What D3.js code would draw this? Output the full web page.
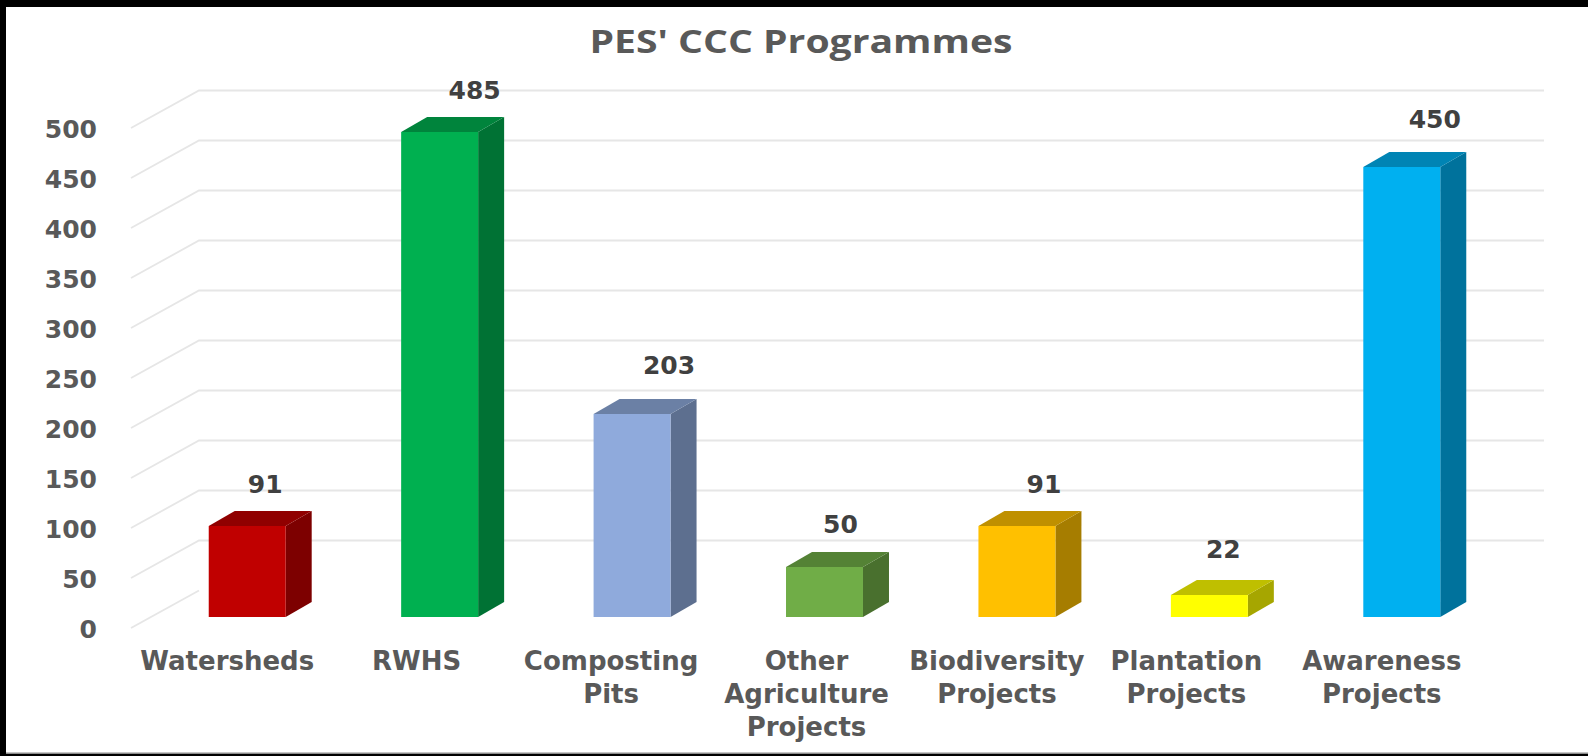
<!DOCTYPE html>
<html>
<head>
<meta charset="utf-8">
<script src="https://cdn.jsdelivr.net/npm/d3@7"></script>
<style>
  html, body { margin:0; padding:0; background:#000; overflow:hidden; }
  text { font-family:"DejaVu Sans", sans-serif; font-weight:700; }
</style>
</head>
<body>
<div id="chart"></div>
<script>
const categories = ["Watersheds","RWHS","Composting Pits","Other Agriculture Projects","Biodiversity Projects","Plantation Projects","Awareness Projects"]
const categoryLines = [["Watersheds"],["RWHS"],["Composting","Pits"],["Other","Agriculture","Projects"],["Biodiversity","Projects"],["Plantation","Projects"],["Awareness","Projects"]]
const values = [91,485,203,50,91,22,450]
const barColors = ["#C00000","#00B050","#8FAADC","#70AD47","#FFC000","#FFFF00","#00B0F0"]
const yTicks = [0,50,100,150,200,250,300,350,400,450,500]
const title = "PES' CCC Programmes"

const width = 1588, height = 756
const margin = { top:128, left:131, right:110, bottom:128 }
// the fake 3d: wall sits behind the axis, bars stand part way into the floor
const wall = { dx:68, dy:-37.5 }
const front = { dx:20, dy:-11 }
const depth = { dx:26, dy:-15 }
// labels were dragged by hand in the original chart
const labelNudge = [[18,-42],[35,-42],[37,-49],[16,-43],[27,-42],[14,-46],[33,-48]]
const tickNudge = [0,-3,-1,2,0,-3,0]

const svg = d3.select("#chart").append("svg")
  .attr("width",width).attr("height",height)
  .style("display","block")

svg.append("rect").attr("x",6).attr("y",7).attr("width",width-6).attr("height",747).attr("fill","#fff")
svg.append("rect").attr("x",6).attr("y",752.5).attr("width",width-6).attr("height",1.5).attr("fill","#8c8c8c")

let xScale = d3.scaleBand().domain(categories).range([margin.left,width-margin.right])
let yScale = d3.scaleLinear().domain([0,500]).range([height-margin.bottom,margin.top])

svg.append("text")
  .attr("x",801).attr("y",53)
  .attr("text-anchor","middle")
  .attr("font-size",33)
  .attr("textLength",423).attr("lengthAdjust","spacingAndGlyphs")
  .attr("fill","#595959")
  .style("font-family",'"Open Sans", sans-serif')
  .text(title)

// gridlines, skip the 0 one on the back wall
let grid = svg.append("g").attr("fill","none").attr("stroke","#e6e6e6").attr("stroke-width",1.8)
yTicks.forEach(t=>{
  let path = d3.path()
  path.moveTo(margin.left,yScale(t))
  path.lineTo(margin.left+wall.dx,yScale(t)+wall.dy)
  if(t>0) path.lineTo(width-margin.right+wall.dx-2,yScale(t)+wall.dy)
  grid.append("path").attr("d",path.toString())
})

let yAxis = d3.axisLeft(yScale).tickValues(yTicks).tickSize(0).tickPadding(34)
let yGroup = svg.append("g").attr("transform",`translate(${margin.left},0)`).call(yAxis)
yGroup.select(".domain").remove()
yGroup.selectAll("text")
  .attr("font-size",25).attr("fill","#595959")
  .attr("font-family",'"DejaVu Sans", sans-serif')
  .attr("font-weight",700)
  .attr("dy","0.36em")

let xAxis = d3.axisBottom(xScale).tickSize(0).tickFormat("")
let xGroup = svg.append("g").attr("transform",`translate(0,${height-margin.bottom})`).call(xAxis)
xGroup.select(".domain").remove()
xGroup.selectAll("text").remove()
xGroup.selectAll(".tick").data(categoryLines).append("text")
  .attr("text-anchor","middle")
  .attr("font-size",26)
  .attr("fill","#595959")
  .attr("transform",(d,i)=>`translate(${tickNudge[i]},0)`)
  .selectAll("tspan")
  .data(d=>d)
  .enter()
  .append("tspan")
  .attr("x",0)
  .attr("y",(d,i)=>42+i*33)
  .text(d=>d)

const barWidth = xScale.bandwidth()*0.4
function shade(c,k){
  let col = d3.rgb(c)
  return d3.rgb(col.r*k,col.g*k,col.b*k).formatHex()
}

let bars = svg.selectAll(".bar")
  .data(categories)
  .enter()
  .append("g")
  .attr("class","bar")

function corners(d,i){
  let x0 = xScale(d)+xScale.bandwidth()/2-barWidth/2+front.dx
  let x1 = x0+barWidth
  let y0 = yScale(0)+front.dy
  let y1 = yScale(values[i])+front.dy
  return {x0,x1,y0,y1}
}

function poly(pts){
  return d3.line()(pts)+"Z"
}

bars.append("path")
  .attr("d",(d,i)=>{
    let c = corners(d,i)
    return poly([[c.x1,c.y1],[c.x1+depth.dx,c.y1+depth.dy],[c.x1+depth.dx,c.y0+depth.dy],[c.x1,c.y0]])
  })
  .attr("fill",(d,i)=>shade(barColors[i],0.65))

bars.append("path")
  .attr("d",(d,i)=>{
    let c = corners(d,i)
    return poly([[c.x0,c.y1],[c.x0+depth.dx,c.y1+depth.dy],[c.x1+depth.dx,c.y1+depth.dy],[c.x1,c.y1]])
  })
  .attr("fill",(d,i)=>shade(barColors[i],0.75))

bars.append("rect")
  .attr("x",(d,i)=>corners(d,i).x0)
  .attr("y",(d,i)=>corners(d,i).y1)
  .attr("width",barWidth)
  .attr("height",(d,i)=>corners(d,i).y0-corners(d,i).y1)
  .attr("fill",(d,i)=>barColors[i])

bars.append("text")
  .attr("x",(d,i)=>(corners(d,i).x0+corners(d,i).x1)/2+labelNudge[i][0])
  .attr("y",(d,i)=>corners(d,i).y1+labelNudge[i][1])
  .attr("dy","0.36em")
  .attr("text-anchor","middle")
  .attr("font-size",25)
  .attr("fill","#404040")
  .text((d,i)=>values[i])
</script>
</body>
</html>
